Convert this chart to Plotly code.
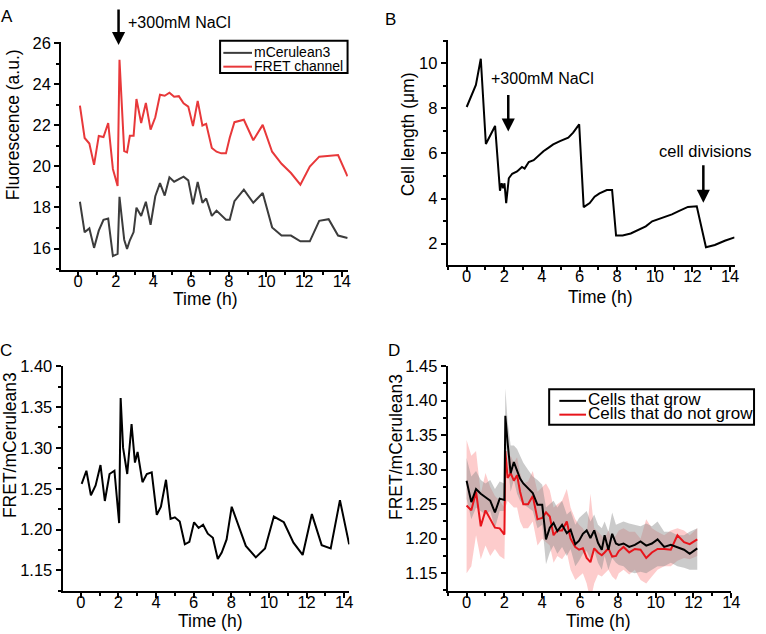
import plotly.graph_objects as go

# ---------------- Panel A: fluorescence ----------------
time_a = [0.1, 0.35, 0.6, 0.85, 1.1, 1.35, 1.6, 1.85, 2.1,
          2.2, 2.45, 2.6, 2.75, 2.95, 3.1,
          3.35, 3.6, 3.85, 4.1, 4.35, 4.6, 4.85, 5.1, 5.35, 5.6, 5.85, 6.1, 6.35, 6.6,
          6.8, 7.1, 7.35, 7.6, 7.85, 8.05,
          8.3, 8.8, 9.3, 9.8, 10.3, 10.8, 11.3, 11.8, 12.3, 12.8, 13.3, 13.8, 14.3]
mcerulean3_a = [18.28, 16.79, 16.98, 16.03, 16.87, 17.40, 17.46, 15.63, 15.74,
                18.52, 16.43, 15.98, 16.40, 16.80, 17.99,
                17.59, 18.28, 17.16, 18.55, 19.19, 18.58, 19.47, 19.26, 19.39, 19.50, 19.32, 18.15, 19.24, 18.23,
                18.44, 17.59, 17.85, 17.62, 17.40, 17.40,
                18.31, 18.87, 18.23, 18.71, 17.03, 16.63, 16.63, 16.35, 16.35, 17.35, 17.43, 16.63, 16.51]
fret_a = [22.97, 21.39, 21.12, 20.08, 21.49, 21.44, 22.12, 19.88, 19.05,
          25.20, 20.75, 20.69, 21.50, 21.50, 23.29,
          22.12, 23.10, 21.80, 22.40, 23.50, 23.45, 23.60, 23.40, 23.43, 23.08, 22.92, 21.97, 23.20, 22.00,
          22.08, 20.90, 20.72, 20.64, 20.64, 21.40,
          22.16, 22.28, 21.28, 22.03, 20.72, 20.13, 19.68, 19.11, 20.00, 20.48, 20.52, 20.56, 19.52]
legend_a = ["mCerulean3", "FRET channel"]

# ---------------- Panel B: cell length ----------------
time_b = [0.0, 0.49, 0.75, 1.02, 1.51, 1.77, 1.86, 1.94, 2.01, 2.1,
          2.24, 2.42, 2.68, 2.94, 3.08, 3.3, 3.56, 3.87, 4.08, 4.34,
          4.6, 4.96, 5.4, 5.66, 5.98, 6.22, 6.54, 6.8, 7.06, 7.45,
          7.73, 7.94, 8.29, 8.72, 9.16, 9.52, 9.86, 10.2, 10.56, 10.91,
          11.27, 11.76, 12.23, 12.72, 13.19, 13.72, 14.24]
cell_length_b = [8.06, 9.04, 10.2, 6.42, 7.22, 4.35, 4.68, 4.46, 4.68, 3.8,
                 4.9, 5.1, 5.2, 5.4, 5.33, 5.62, 5.7, 5.95, 6.1, 6.25,
                 6.4, 6.55, 6.7, 6.92, 7.29, 3.62, 3.8, 4.08, 4.23, 4.38,
                 4.38, 2.36, 2.36, 2.45, 2.63, 2.77, 2.99, 3.09, 3.21, 3.3,
                 3.44, 3.63, 3.66, 1.84, 1.94, 2.13, 2.28]

# ---------------- Panel C: FRET ratio, single cell ----------------
time_c = [0.05, 0.3, 0.54, 0.79, 1.05, 1.28, 1.53, 1.79, 2.04,
          2.12, 2.25, 2.47, 2.7, 2.88, 3.02,
          3.28, 3.51, 3.77, 4.04, 4.26, 4.53, 4.77, 5.0, 5.26, 5.53, 5.77, 6.02, 6.26, 6.5,
          6.75, 7.02, 7.28, 7.49, 7.75, 8.02,
          8.4, 8.77, 9.3, 9.79, 10.26, 10.79, 11.3, 11.79, 12.28, 12.8, 13.28, 13.77, 14.26]
ratio_c = [1.256, 1.272, 1.242, 1.254, 1.279, 1.235, 1.268, 1.272, 1.208,
           1.361, 1.300, 1.268, 1.329, 1.282, 1.295,
           1.258, 1.268, 1.270, 1.218, 1.228, 1.261, 1.213, 1.215, 1.210, 1.182, 1.185, 1.209, 1.202, 1.206,
           1.195, 1.190, 1.164, 1.172, 1.188, 1.228,
           1.203, 1.180, 1.166, 1.177, 1.216, 1.209, 1.184, 1.169, 1.219, 1.181, 1.177, 1.236, 1.182]

# ---------------- Panel D: FRET ratio, mean +/- spread ----------------
time_d = [0, 0.25, 0.5, 0.75, 1.0, 1.25, 1.5, 1.75, 2.0,
          2.05, 2.17, 2.33, 2.5, 2.67, 2.83, 3.0,
          3.25, 3.5, 3.75, 4.0, 4.2, 4.4, 4.6, 4.8, 5.05, 5.3,
          5.5, 5.75, 5.95, 6.15, 6.35, 6.55, 6.75, 6.95, 7.15, 7.3,
          7.5, 7.7, 7.9, 8.05, 8.3, 8.6, 8.9, 9.2, 9.5, 9.8,
          10.1, 10.45, 10.8, 11.15, 11.5, 11.8, 12.2]
grow_mean = [1.284, 1.253, 1.272, 1.265, 1.260, 1.255, 1.238, 1.258, 1.256,
             1.378, 1.339, 1.295, 1.311, 1.297, 1.287, 1.280,
             1.273, 1.266, 1.249, 1.249, 1.199, 1.216, 1.223, 1.211, 1.220, 1.208,
             1.213, 1.192, 1.197, 1.207, 1.212, 1.201, 1.212, 1.194, 1.184, 1.205,
             1.184, 1.207, 1.193, 1.191, 1.193, 1.188, 1.191, 1.196, 1.190, 1.193,
             1.199, 1.188, 1.191, 1.188, 1.184, 1.178, 1.186]
nogrow_mean = [1.248, 1.241, 1.268, 1.218, 1.241, 1.228, 1.216, 1.215, 1.206,
               1.327, 1.288, 1.295, 1.284, 1.292, 1.268, 1.250,
               1.250, 1.262, 1.228, 1.230, 1.238, 1.232, 1.205, 1.212, 1.212, 1.225,
               1.200, 1.188, 1.184, 1.186, 1.172, 1.166, 1.186, 1.180, 1.176, 1.180,
               1.186, 1.174, 1.175, 1.182, 1.188, 1.180, 1.185, 1.184, 1.172, 1.180,
               1.185, 1.185, 1.184, 1.205, 1.195, 1.192, 1.199]
grow_upper = [1.317, 1.290, 1.298, 1.285, 1.280, 1.285, 1.272, 1.283, 1.280,
              1.418, 1.370, 1.335, 1.335, 1.330, 1.320, 1.310,
              1.300, 1.290, 1.285, 1.278, 1.245, 1.250, 1.255, 1.245, 1.255, 1.235,
              1.240, 1.220, 1.230, 1.235, 1.240, 1.225, 1.235, 1.220, 1.215, 1.225,
              1.210, 1.238, 1.220, 1.222, 1.225, 1.222, 1.220, 1.218, 1.222, 1.218,
              1.225, 1.210, 1.210, 1.205, 1.205, 1.210, 1.215]
grow_lower = [1.258, 1.228, 1.245, 1.240, 1.235, 1.240, 1.215, 1.240, 1.240,
              1.340, 1.305, 1.268, 1.285, 1.265, 1.255, 1.250,
              1.245, 1.240, 1.215, 1.220, 1.163, 1.180, 1.190, 1.178, 1.188, 1.175,
              1.185, 1.160, 1.168, 1.178, 1.182, 1.170, 1.183, 1.165, 1.155, 1.175,
              1.155, 1.172, 1.165, 1.162, 1.160, 1.152, 1.150, 1.152, 1.150, 1.155,
              1.160, 1.160, 1.165, 1.160, 1.158, 1.155, 1.155]
nogrow_upper = [1.343, 1.320, 1.327, 1.265, 1.295, 1.275, 1.262, 1.255, 1.245,
                1.330, 1.310, 1.320, 1.310, 1.318, 1.295, 1.280,
                1.283, 1.298, 1.268, 1.275, 1.280, 1.270, 1.245, 1.250, 1.255, 1.272,
                1.245, 1.228, 1.220, 1.215, 1.205, 1.265, 1.215, 1.210, 1.205, 1.200,
                1.212, 1.198, 1.205, 1.212, 1.215, 1.210, 1.210, 1.200, 1.228, 1.215,
                1.210, 1.205, 1.212, 1.215, 1.212, 1.205, 1.215]
nogrow_lower = [1.150, 1.160, 1.205, 1.170, 1.190, 1.175, 1.185, 1.175, 1.170,
                1.245, 1.255, 1.250, 1.245, 1.245, 1.225, 1.215,
                1.215, 1.225, 1.190, 1.200, 1.195, 1.190, 1.165, 1.175, 1.170, 1.180,
                1.155, 1.140, 1.145, 1.150, 1.135, 1.110, 1.135, 1.148, 1.145, 1.150,
                1.155, 1.145, 1.140, 1.150, 1.155, 1.148, 1.155, 1.140, 1.135, 1.145,
                1.155, 1.160, 1.160, 1.168, 1.172, 1.170, 1.175]
legend_d = ["Cells that grow", "Cells that do not grow"]

# ---------------- layout helpers ----------------
W, H = 766, 634
FONT = "Liberation Sans, Arial, Helvetica, sans-serif"
COL_DARK = "#3c3c3c"
COL_RED_A = "#e8383a"
COL_RED_D = "#e8141b"


def fx(p):
    return p / W


def fy(p):
    return 1 - p / H


def xaxis(domain, rng, anchor):
    return dict(domain=domain, range=rng, anchor=anchor, showline=True, linecolor="black",
                linewidth=2, ticks="outside", ticklen=5, tickwidth=2, tickcolor="black",
                tick0=0, dtick=2, ticklabelstandoff=-10,
                minor=dict(dtick=1, ticks="outside", ticklen=3, tickwidth=1.5, tickcolor="black"),
                showgrid=False, zeroline=False,
                tickfont=dict(size=16.5, color="black", family=FONT))


def yaxis(domain, rng, anchor, dtick, minor, fmt=None):
    d = dict(domain=domain, range=rng, anchor=anchor, showline=True, linecolor="black",
             linewidth=2, ticks="outside", ticklen=5, tickwidth=2, tickcolor="black",
             tick0=0, dtick=dtick,
             minor=dict(dtick=minor, ticks="outside", ticklen=3, tickwidth=1.5, tickcolor="black"),
             showgrid=False, zeroline=False,
             tickfont=dict(size=16.5, color="black", family=FONT))
    if fmt:
        d["tickformat"] = fmt
    return d


fig = go.Figure()

# Panel A
fig.add_trace(go.Scatter(x=time_a, y=mcerulean3_a, mode="lines", name=legend_a[0],
                         line=dict(color=COL_DARK, width=2), xaxis="x", yaxis="y",
                         showlegend=False))
fig.add_trace(go.Scatter(x=time_a, y=fret_a, mode="lines", name=legend_a[1],
                         line=dict(color=COL_RED_A, width=2), xaxis="x", yaxis="y",
                         showlegend=False))

# Panel B
fig.add_trace(go.Scatter(x=time_b, y=cell_length_b, mode="lines", showlegend=False,
                         line=dict(color="black", width=2), xaxis="x2", yaxis="y2"))

# Panel C
fig.add_trace(go.Scatter(x=time_c, y=ratio_c, mode="lines", showlegend=False,
                         line=dict(color="black", width=2), xaxis="x3", yaxis="y3"))

# Panel D bands
fig.add_trace(go.Scatter(x=time_d, y=nogrow_lower, mode="lines", line=dict(width=0),
                         showlegend=False, hoverinfo="skip", xaxis="x4", yaxis="y4"))
fig.add_trace(go.Scatter(x=time_d, y=nogrow_upper, mode="lines", line=dict(width=0),
                         fill="tonexty", fillcolor="rgba(250,110,110,0.35)",
                         showlegend=False, hoverinfo="skip", xaxis="x4", yaxis="y4"))
fig.add_trace(go.Scatter(x=time_d, y=grow_lower, mode="lines", line=dict(width=0),
                         showlegend=False, hoverinfo="skip", xaxis="x4", yaxis="y4"))
fig.add_trace(go.Scatter(x=time_d, y=grow_upper, mode="lines", line=dict(width=0),
                         fill="tonexty", fillcolor="rgba(140,140,140,0.45)",
                         showlegend=False, hoverinfo="skip", xaxis="x4", yaxis="y4"))
fig.add_trace(go.Scatter(x=time_d, y=nogrow_mean, mode="lines", name=legend_d[1],
                         line=dict(color=COL_RED_D, width=2), xaxis="x4", yaxis="y4",
                         showlegend=False))
fig.add_trace(go.Scatter(x=time_d, y=grow_mean, mode="lines", name=legend_d[0],
                         line=dict(color="black", width=2), xaxis="x4", yaxis="y4",
                         showlegend=False))

ann = []
shapes = []


def text(s, x, y, size=17.5, angle=0, xanchor="center"):
    ann.append(dict(text=s, x=fx(x), y=fy(y), xref="paper", yref="paper", showarrow=False,
                    xanchor=xanchor, yanchor="middle", textangle=angle, borderpad=0,
                    font=dict(size=size, color="black", family=FONT)))


def legend_box(x0, y0, x1, y1, rows, size):
    shapes.append(dict(type="rect", xref="paper", yref="paper", x0=fx(x0), x1=fx(x1),
                       y0=fy(y1), y1=fy(y0), line=dict(color="black", width=2),
                       fillcolor="white", layer="above"))
    for (label, color, yrow, lx0, lx1, tx) in rows:
        shapes.append(dict(type="line", xref="paper", yref="paper", x0=fx(lx0), x1=fx(lx1),
                           y0=fy(yrow), y1=fy(yrow), line=dict(color=color, width=2),
                           layer="above"))
        text(label, tx, yrow - 1, size=size, xanchor="left")


# legends (drawn as a box with line samples)
legend_box(222.7, 32.3, 351.7, 65.0,
           [(legend_a[0], COL_DARK, 44.5, 226, 255, 256),
            (legend_a[1], COL_RED_A, 58.5, 226, 255, 256)], 14)
legend_box(555.7, 385.7, 763.0, 421.7,
           [(legend_d[0], "black", 397.5, 566, 593, 593.5),
            (legend_d[1], COL_RED_D, 411.5, 566, 593, 593.5)], 17)

# panel letters
text("A", 0, 8, size=17, xanchor="left")
text("B", 389, 11, size=17, xanchor="left")
text("C", -1, 346, size=17, xanchor="left")
text("D", 392, 346, size=17, xanchor="left")

# axis titles
text("Fluorescence (a.u.)", 14, 117, angle=-90)
text("Time (h)", 208, 294)
text("Cell length (μm)", 413, 127, angle=-90)
text("Time (h)", 608, 292)
text("FRET/mCerulean3", 9.5, 442, angle=-90)
text("Time (h)", 213, 621)
text("FRET/mCerulean3", 400, 444, angle=-90)
text("Time (h)", 606, 621)

# annotations in panels
text("+300mM NaCl", 181.5, 14, size=16)
text("+300mM NaCl", 549, 71, size=16)
text("cell divisions", 713.5, 144, size=16.5)

# arrows
for xv, yv, xr, yr, ay in [(2.15, 25.92, "x", "y", -37),
                           (2.21, 6.97, "x2", "y2", -38),
                           (12.58, 3.81, "x2", "y2", -39)]:
    ann.append(dict(x=xv, y=yv, xref=xr, yref=yr, ax=0, ay=ay, text="", showarrow=True,
                    arrowhead=2, arrowsize=1.05, arrowwidth=2.5, arrowcolor="black"))

fig.update_layout(
    width=W, height=H, margin=dict(l=0, r=0, t=0, b=0),
    paper_bgcolor="white", plot_bgcolor="white",
    font=dict(family=FONT, color="black"),
    showlegend=False,
    xaxis=xaxis([fx(62), fx(352)], [-0.89, 14.32], "y"),
    yaxis=yaxis([fy(265), fy(33.3)], [14.94, 26.08], "x", 2, 1),
    xaxis2=xaxis([fx(453), fx(743.3)], [-1.01, 14.24], "y2"),
    yaxis2=yaxis([fy(260), fy(31.7)], [1.04, 11.02], "x2", 2, 1),
    xaxis3=xaxis([fx(63.3), fx(353.5)], [-0.966, 14.27], "y3"),
    yaxis3=yaxis([fy(590.7), fy(361.7)], [1.1245, 1.4007], "x3", 0.05, 0.025, ".2f"),
    xaxis4=xaxis([fx(453), fx(740)], [-1.0, 14.0], "y4"),
    yaxis4=yaxis([fy(590.7), fy(362.3)], [1.1237, 1.45], "x4", 0.05, 0.025, ".2f"),
    annotations=ann,
    shapes=shapes,
)

fig.write_html("out.html", config={"displayModeBar": False},
               post_script="document.body.style.margin='0px';document.body.style.overflow='hidden';")
